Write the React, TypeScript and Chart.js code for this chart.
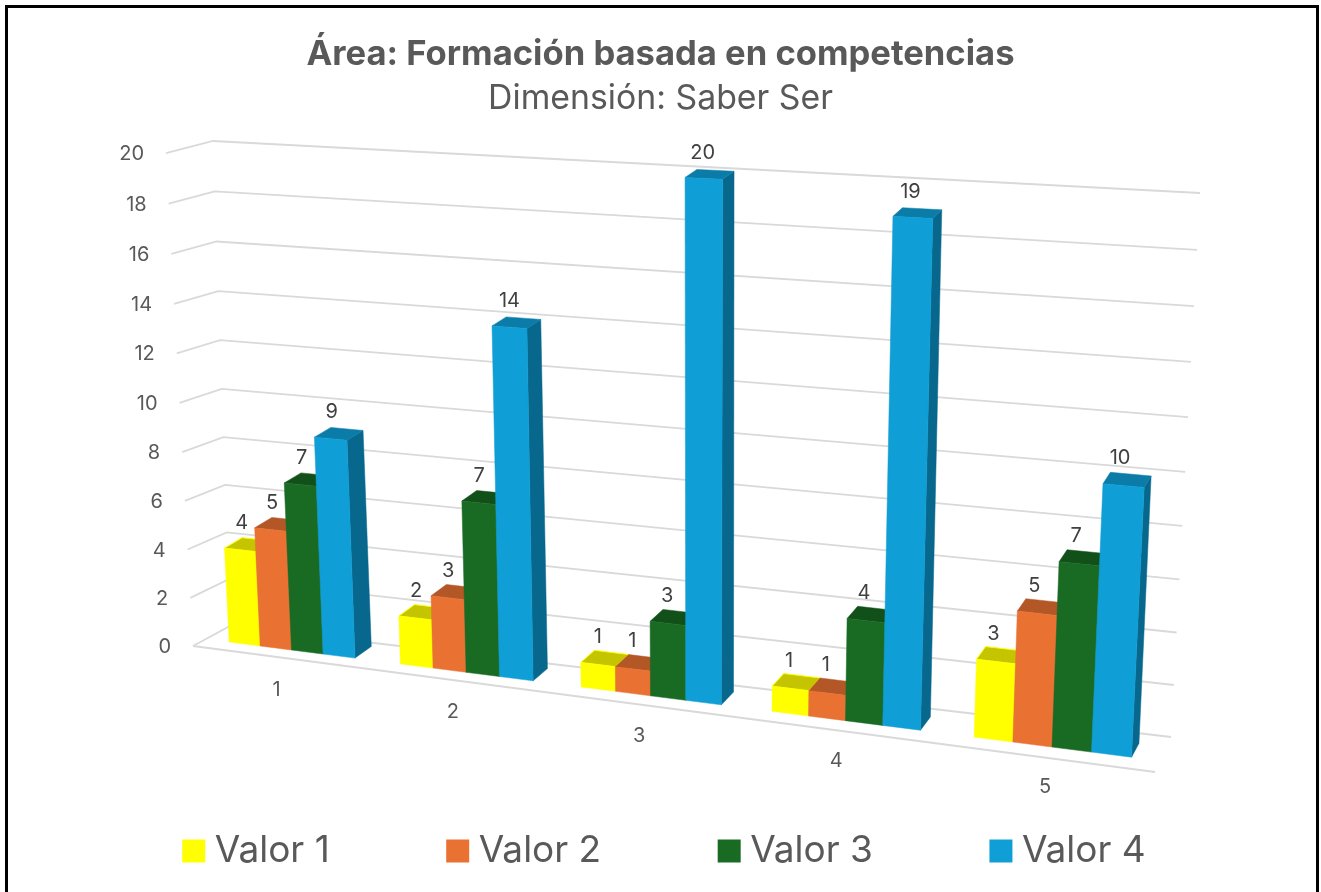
import React, { useEffect, useRef } from "react";
import { Chart, registerables } from "chart.js";

Chart.register(...registerables);

const categories = ["1", "2", "3", "4", "5"];
const seriesNames = ["Valor 1", "Valor 2", "Valor 3", "Valor 4"];
const valor1 = [4, 2, 1, 1, 3];
const valor2 = [5, 3, 1, 1, 5];
const valor3 = [7, 7, 3, 4, 7];
const valor4 = [9, 14, 20, 19, 10];

const frontColors = ["#FFFF00", "#E97132", "#196B24", "#0F9ED5"];
const topColors = ["#C4C400", "#B35726", "#125019", "#0B7CA8"];
const sideColors = ["#B8B800", "#A84F22", "#0F4A17", "#07678C"];

const FONT = "Inter, 'Noto Sans', sans-serif";

type Pt = [number, number];
type Quad = [Pt, Pt, Pt, Pt]; // (0,0) (1,0) (1,1) (0,1)

function homography(q: Quad) {
  const [[x0, y0], [x1, y1], [x2, y2], [x3, y3]] = q;
  const dx1 = x1 - x2, dx2 = x3 - x2, dx3 = x0 - x1 + x2 - x3;
  const dy1 = y1 - y2, dy2 = y3 - y2, dy3 = y0 - y1 + y2 - y3;
  const D = dx1 * dy2 - dx2 * dy1;
  const g = (dx3 * dy2 - dx2 * dy3) / D;
  const h = (dx1 * dy3 - dx3 * dy1) / D;
  const a = x1 - x0 + g * x1, b = x3 - x0 + h * x3, c = x0;
  const d = y1 - y0 + g * y1, e = y3 - y0 + h * y3, f = y0;
  return (u: number, v: number): Pt => {
    const w = g * u + h * v + 1;
    return [(a * u + b * v + c) / w, (d * u + e * v + f) / w];
  };
}

// View of the 3D box: planes that the chart's scale space is projected on.
const frontPlane = homography([[207.6, 639.3], [1159.9, 760.8], [1187.8, 203], [182.1, 151.8]]);
const rearPlane = homography([[225.5, 628], [1167, 746.8], [1193.8, 194], [199.5, 144.8]]);
const backWall = homography([[230, 626], [1171, 737], [1200, 193], [213, 141]]);
const sideEdge = (v: number): Pt => [193 - 27 * v, (646 - 497 * v) / (1 - 0.0268 * v)];
const floorFront: [Pt, Pt] = [[193, 646], [1155, 772]];

function poly(ctx: CanvasRenderingContext2D, pts: Pt[], fill: string, stroke?: string) {
  ctx.beginPath();
  pts.forEach((p, i) => (i ? ctx.lineTo(p[0], p[1]) : ctx.moveTo(p[0], p[1])));
  ctx.closePath();
  ctx.fillStyle = fill;
  ctx.fill();
  ctx.lineJoin = "round";
  ctx.lineWidth = stroke ? 1 : 0.5;
  ctx.strokeStyle = stroke || fill;
  ctx.stroke();
}

const perspectivePlugin = {
  id: "perspective",
  afterLayout(chart: any) {
    const lg = chart.legend;
    if (lg) {
      lg.top = 851 - lg.options.labels.font.size / 2 - lg.options.labels.padding;
      lg.left += 8;
      lg.right += 8;
    }
  },
  beforeDatasetsDraw(chart: any) {
    const ctx: CanvasRenderingContext2D = chart.ctx;
    const area = chart.chartArea;
    const xs = chart.scales.x;
    const ys = chart.scales.y;
    const U = (px: number) => (px - area.left) / area.width;
    const V = (py: number) => (area.bottom - py) / area.height;

    ctx.save();
    // Gridlines and value axis labels
    ctx.strokeStyle = "#D9D9D9";
    ctx.lineWidth = 1.8;
    ys.ticks.forEach((t: any) => {
      const v = V(ys.getPixelForValue(t.value));
      const a = sideEdge(v), b = backWall(0, v), c = backWall(1, v);
      ctx.beginPath();
      ctx.moveTo(a[0], a[1]);
      ctx.lineTo(b[0], b[1]);
      ctx.lineTo(c[0], c[1]);
      ctx.stroke();
      ctx.fillStyle = "#595959";
      ctx.font = `20px ${FONT}`;
      ctx.textAlign = "right";
      ctx.textBaseline = "middle";
      ctx.fillText(String(t.value), a[0] - 22, a[1] + 1);
    });
    ctx.beginPath();
    ctx.moveTo(floorFront[0][0], floorFront[0][1]);
    ctx.lineTo(floorFront[1][0], floorFront[1][1]);
    ctx.stroke();

    // Category labels
    ctx.fillStyle = "#595959";
    ctx.font = `20px ${FONT}`;
    ctx.textAlign = "center";
    categories.forEach((c, i) => {
      const p = frontPlane(U(xs.getPixelForValue(i)), 0);
      ctx.fillText(c, p[0] - 15 + (p[0] - 290) * 0.0105, p[1] + 40);
    });

    // Bars, left to right so that nearer faces overlap correctly
    const labels: { text: string; x: number; y: number }[] = [];
    categories.forEach((_, i) => {
      chart.data.datasets.forEach((ds: any, d: number) => {
        const el = chart.getDatasetMeta(d).data[i];
        const u0 = U(el.x - el.width / 2), u1 = U(el.x + el.width / 2);
        const vTop = V(el.y), vBase = V(el.base);
        const fTL = frontPlane(u0, vTop), fTR = frontPlane(u1, vTop);
        const fBL = frontPlane(u0, vBase), fBR = frontPlane(u1, vBase);
        const rTL = rearPlane(u0, vTop), rTR = rearPlane(u1, vTop), rBR = rearPlane(u1, vBase);
        poly(ctx, [fTR, rTR, rBR, fBR], sideColors[d]);
        poly(ctx, [fTL, fTR, rTR, rTL], topColors[d], d === 0 ? frontColors[d] : undefined);
        poly(ctx, [fTL, fTR, fBR, fBL], frontColors[d]);
        const fc = frontPlane(U(el.x), vTop), rc = rearPlane(U(el.x), vTop);
        labels.push({
          text: String(ds.data[i]),
          x: (fc[0] + rc[0]) / 2 - 7,
          y: (fc[1] + rc[1]) / 2 - 21.5,
        });
      });
    });

    // Data labels
    ctx.fillStyle = "#404040";
    ctx.font = `20px ${FONT}`;
    ctx.textAlign = "center";
    ctx.textBaseline = "middle";
    labels.forEach((l) => ctx.fillText(l.text, l.x, l.y));
    ctx.restore();
    return false;
  },
};

export default function App() {
  const ref = useRef<HTMLCanvasElement>(null);
  useEffect(() => {
    document.body.style.margin = "0";
    document.documentElement.style.overflow = "hidden";
    const series = [valor1, valor2, valor3, valor4];
    const chart = new Chart(ref.current!, {
      type: "bar",
      data: {
        labels: categories,
        datasets: series.map((data, d) => ({
          label: seriesNames[d],
          data,
          backgroundColor: frontColors[d],
          borderWidth: 0,
          categoryPercentage: 0.74,
          barPercentage: 1,
        })),
      },
      options: {
        responsive: false,
        animation: false,
        scales: {
          x: { display: false },
          y: { display: false, min: 0, max: 20, ticks: { stepSize: 2 } },
        },
        plugins: {
          tooltip: { enabled: false },
          title: {
            display: true,
            text: "Área: Formación basada en competencias",
            color: "#595959",
            font: { family: FONT, size: 34.6, weight: "bold", lineHeight: 1.2 },
            padding: { top: 34, bottom: 3 },
          },
          subtitle: {
            display: true,
            text: "Dimensión: Saber Ser",
            color: "#595959",
            font: { family: FONT, size: 33.8, weight: "normal", lineHeight: 1.2 },
            padding: { top: 0, bottom: 0 },
          },
          legend: {
            position: "bottom",
            labels: {
              color: "#595959",
              font: { family: FONT, size: 37 },
              usePointStyle: true,
              pointStyle: "rect",
              boxWidth: 5,
              boxHeight: 23,
              padding: 125.5,
            },
          },
        },
      } as any,
      plugins: [perspectivePlugin as any],
    });
    return () => chart.destroy();
  }, []);

  return (
    <div style={{ position: "relative", width: 1321, height: 892, overflow: "hidden", background: "#fff" }}>
      <canvas ref={ref} width={1321} height={892} style={{ display: "block" }} />
      <div
        style={{
          position: "absolute",
          left: 5,
          top: 5,
          width: 1308,
          height: 900,
          border: "3px solid #000",
          pointerEvents: "none",
        }}
      />
    </div>
  );
}
